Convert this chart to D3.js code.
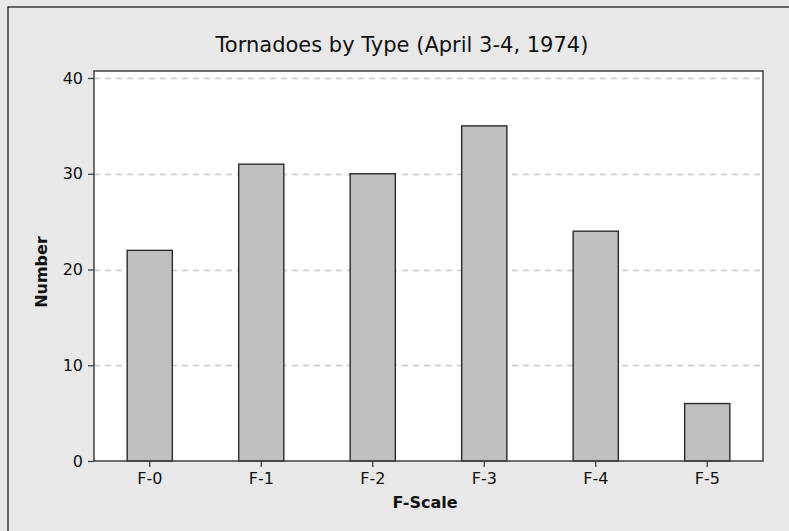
<!DOCTYPE html>
<html>
<head>
<meta charset="utf-8">
<script src="https://cdn.jsdelivr.net/npm/d3@7"></script>
<style>
  html, body { margin: 0; padding: 0; background: #e8e8e8; }
  svg { display: block; }
  text { font-family: "DejaVu Sans", Verdana, sans-serif; fill: #111; }
</style>
</head>
<body>
<script>
// Tornado counts by Fujita scale, April 3-4, 1974 outbreak
const categories = ["F-0", "F-1", "F-2", "F-3", "F-4", "F-5"];
const counts = [22, 31, 30, 35, 24, 6];
const yTicks = [0, 10, 20, 30, 40];
const title = "Tornadoes by Type (April 3-4, 1974)";
const xTitle = "F-Scale";
const yTitle = "Number";

const W = 789, H = 531;
const plot = { left: 94, top: 71, right: 763, bottom: 461 };

const svg = d3.select("body").append("svg")
  .attr("width", W).attr("height", H);

// outer panel
svg.append("rect")
  .attr("x", 0).attr("y", 0).attr("width", W).attr("height", H)
  .attr("fill", "#e8e8e8");
svg.append("rect")
  .attr("x", 8).attr("y", 7).attr("width", W + 20).attr("height", H + 20)
  .attr("fill", "#e8e8e8").attr("stroke", "#111").attr("stroke-width", 1.2);

const x = d3.scaleBand()
  .domain(categories)
  .range([plot.left, plot.right])
  .paddingInner(0.595)
  .paddingOuter(0.2975);

const y = d3.scaleLinear()
  .domain([0, 40])
  .range([plot.bottom, 78]);

// plot area
svg.append("rect")
  .attr("x", plot.left).attr("y", plot.top)
  .attr("width", plot.right - plot.left).attr("height", plot.bottom - plot.top)
  .attr("fill", "#fff");

// dashed reference lines
svg.append("g").selectAll("line")
  .data(yTicks.filter(d => d > 0))
  .join("line")
  .attr("x1", plot.left).attr("x2", plot.right)
  .attr("y1", d => Math.round(y(d)) + 0.5).attr("y2", d => Math.round(y(d)) + 0.5)
  .attr("stroke", "#c8c8c8").attr("stroke-width", 1.3)
  .attr("stroke-dasharray", "6,5");

// bars
svg.append("g").selectAll("rect")
  .data(categories)
  .join("rect")
  .attr("x", d => x(d))
  .attr("y", (d, i) => y(counts[i]))
  .attr("width", x.bandwidth())
  .attr("height", (d, i) => y(0) - y(counts[i]))
  .attr("fill", "#c0c0c0")
  .attr("stroke", "#2a2a2a").attr("stroke-width", 1.4);

// frame
svg.append("rect")
  .attr("x", plot.left).attr("y", plot.top)
  .attr("width", plot.right - plot.left).attr("height", plot.bottom - plot.top)
  .attr("fill", "none").attr("stroke", "#404040").attr("stroke-width", 1.5);

// axes
const yAxis = d3.axisLeft(y).tickValues(yTicks).tickSize(6).tickPadding(5);
const gy = svg.append("g").attr("transform", `translate(${plot.left},0)`).call(yAxis);
gy.select(".domain").remove();
gy.selectAll(".tick line").attr("stroke", "#404040").attr("stroke-width", 1.3);
gy.selectAll(".tick text")
  .attr("font-family", "'DejaVu Sans', Verdana, sans-serif")
  .attr("font-size", 16).attr("fill", "#2a2a2a");

const xAxis = d3.axisBottom(x).tickSize(6).tickPadding(6);
const gx = svg.append("g").attr("transform", `translate(0,${plot.bottom})`).call(xAxis);
gx.select(".domain").remove();
gx.selectAll(".tick line").attr("stroke", "#404040").attr("stroke-width", 1.3);
gx.selectAll(".tick text")
  .attr("font-family", "'DejaVu Sans', Verdana, sans-serif")
  .attr("font-size", 16).attr("fill", "#2a2a2a");

// titles
svg.append("text")
  .attr("x", 402).attr("y", 52)
  .attr("text-anchor", "middle")
  .attr("font-size", 21)
  .text(title);

svg.append("text")
  .attr("x", 425).attr("y", 508)
  .attr("text-anchor", "middle")
  .attr("font-size", 16).attr("font-weight", "bold")
  .text(xTitle);

svg.append("text")
  .attr("transform", `translate(47,272) rotate(-90)`)
  .attr("text-anchor", "middle")
  .attr("font-size", 16).attr("font-weight", "bold")
  .text(yTitle);
</script>
</body>
</html>
